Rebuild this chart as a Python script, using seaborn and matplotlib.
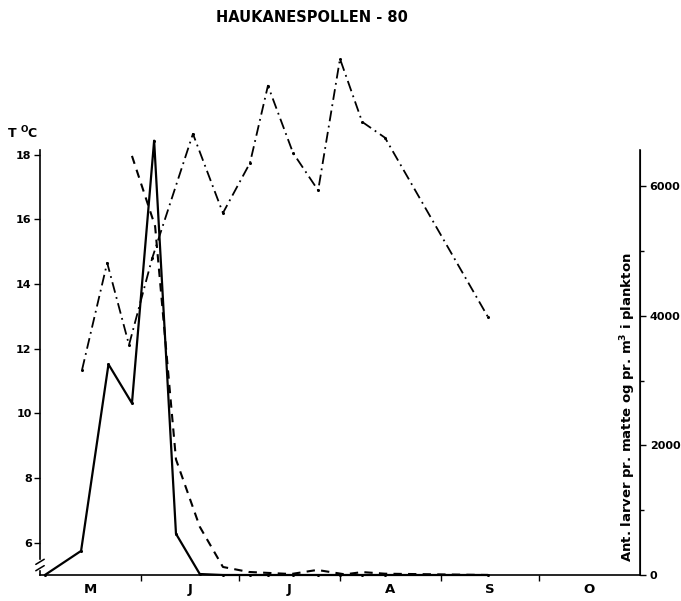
import matplotlib
matplotlib.use("Agg")
import matplotlib.pyplot as plt
import numpy as np
import pandas as pd
import seaborn as sns

# Sampling days counted from 1 May
temp_days = [12.9, 20.6, 27.3, 34.4, 46.9, 56.1, 64.4, 69.9, 77.6, 85.3, 92.0, 98.8, 105.8, 137.4]
temp_c = [11.35, 14.66, 12.12, 14.8, 18.65, 16.2, 17.75, 20.14, 18.06, 16.9, 20.97, 19.02, 18.53, 12.98]

mat_days = [1.5, 12.6, 21.0, 28.2, 35.0, 41.7, 49.0, 56.1, 64.4, 69.9, 77.6, 85.3, 92.0, 98.8, 105.8, 137.4]
mat_larvae = [0, 372, 3250, 2650, 6700, 636, 15, 0, 0, 0, 0, 0, 0, 0, 0, 0]

plank_days = [28.2, 35.3, 41.7, 49.0, 56.1, 64.0, 77.0, 85.0, 93.5, 98.8, 105.8, 137.4]
plank_larvae = [6465, 5380, 1783, 744, 124, 47, 15, 78, 10, 45, 20, 0]

month_labels = ["M", "J", "J", "A", "S", "O"]
month_lengths = [31, 30, 31, 31, 30, 31]

title = "HAUKANESPOLLEN - 80"
right_label = "Ant. larver pr. matte og pr. m$^{\\mathbf{3}}$ i plankton"

temp_df = pd.DataFrame({"day": temp_days, "temp": temp_c})
mat_df = pd.DataFrame({"day": mat_days, "larvae": mat_larvae})
plank_df = pd.DataFrame({"day": plank_days, "larvae": plank_larvae})

sns.set_style("ticks")
plt.rcParams["font.family"] = ["DejaVu Sans"]
plt.rcParams["font.weight"] = "bold"
for key in ("text.color", "axes.labelcolor", "xtick.color", "ytick.color", "axes.edgecolor"):
    plt.rcParams[key] = "black"

fig = plt.figure(figsize=(6.81, 6.01), dpi=100)
ax = fig.add_axes([40 / 681, 1 - 575 / 601, 600 / 681, 425 / 601])
ax2 = ax.twinx()

# Temperature (left axis), dash-dot, allowed to run above the frame
sns.lineplot(data=temp_df, x="day", y="temp", ax=ax, color="black", lw=1.3,
             linestyle=(0, (6, 2.5, 1, 2.5)), marker="o", markersize=2.2,
             markeredgewidth=0, clip_on=False, sort=False)

# Larvae per mat (solid) and per m3 plankton (dashed), right axis
sns.lineplot(data=mat_df, x="day", y="larvae", ax=ax2, color="black", lw=1.6,
             marker="o", markersize=2.2, markeredgewidth=0, clip_on=False, sort=False)
sns.lineplot(data=plank_df, x="day", y="larvae", ax=ax2, color="black", lw=1.5,
             linestyle=(0, (4, 3)), clip_on=False, sort=False)

total = sum(month_lengths)
bounds = np.concatenate([[0], np.cumsum(month_lengths)])
mids = (bounds[:-1] + bounds[1:]) / 2

for a in (ax, ax2):
    a.set_xlim(0, total)
    a.set_xlabel("")
    a.set_ylabel("")
    a.spines["top"].set_visible(False)

ax.set_ylim(5.0, 18.15)
ax2.set_ylim(0, 6556)

ax.set_xticks(bounds[1:-1])
ax.set_xticklabels([])
ax.set_xticks(mids, minor=True)
ax.set_xticklabels(month_labels, minor=True, fontsize=9.5, fontweight="bold")
ax.tick_params(axis="x", which="major", length=4, width=1, direction="out")
ax.tick_params(axis="x", which="minor", length=0, pad=6)

ax.set_yticks([6, 8, 10, 12, 14, 16, 18])
ax.set_yticklabels(["6", "8", "10", "12", "14", "16", "18"], fontsize=8, fontweight="bold")
ax.tick_params(axis="y", length=4, width=1, pad=2)

ax2.set_yticks([0, 2000, 4000, 6000])
ax2.set_yticklabels(["0", "2000", "4000", "6000"], fontsize=8, fontweight="bold")
ax2.set_yticks([1000, 3000, 5000], minor=True)
ax2.tick_params(axis="y", which="major", length=4, width=1, pad=3)
ax2.tick_params(axis="y", which="minor", length=3, width=1)
ax2.spines["left"].set_visible(False)
ax2.spines["bottom"].set_visible(False)

for sp in ("left", "bottom"):
    ax.spines[sp].set_linewidth(1.2)
ax2.spines["right"].set_linewidth(1.2)

# Axis break on the temperature scale
ax.add_patch(plt.Rectangle((-0.01, 0.014), 0.02, 0.022, transform=ax.transAxes,
                           color="white", clip_on=False, zorder=5))
for yb in (0.016, 0.031):
    ax.plot([-0.007, 0.007], [yb - 0.006, yb + 0.006], transform=ax.transAxes,
            color="black", lw=1.1, clip_on=False, zorder=6)

fig.text(7 / 681, 1 - 138 / 601, "T $^{\\mathbf{O}}$C", fontsize=9, fontweight="bold",
         ha="left", va="baseline")
fig.text(312 / 681, 1 - 17 / 601, title, fontsize=10.5, fontweight="bold",
         ha="center", va="center")
fig.text(628 / 681, 1 - 407 / 601, right_label, fontsize=9.5, fontweight="bold",
         rotation=90, ha="center", va="center")

fig.savefig("out.png", dpi=100, facecolor="white")
